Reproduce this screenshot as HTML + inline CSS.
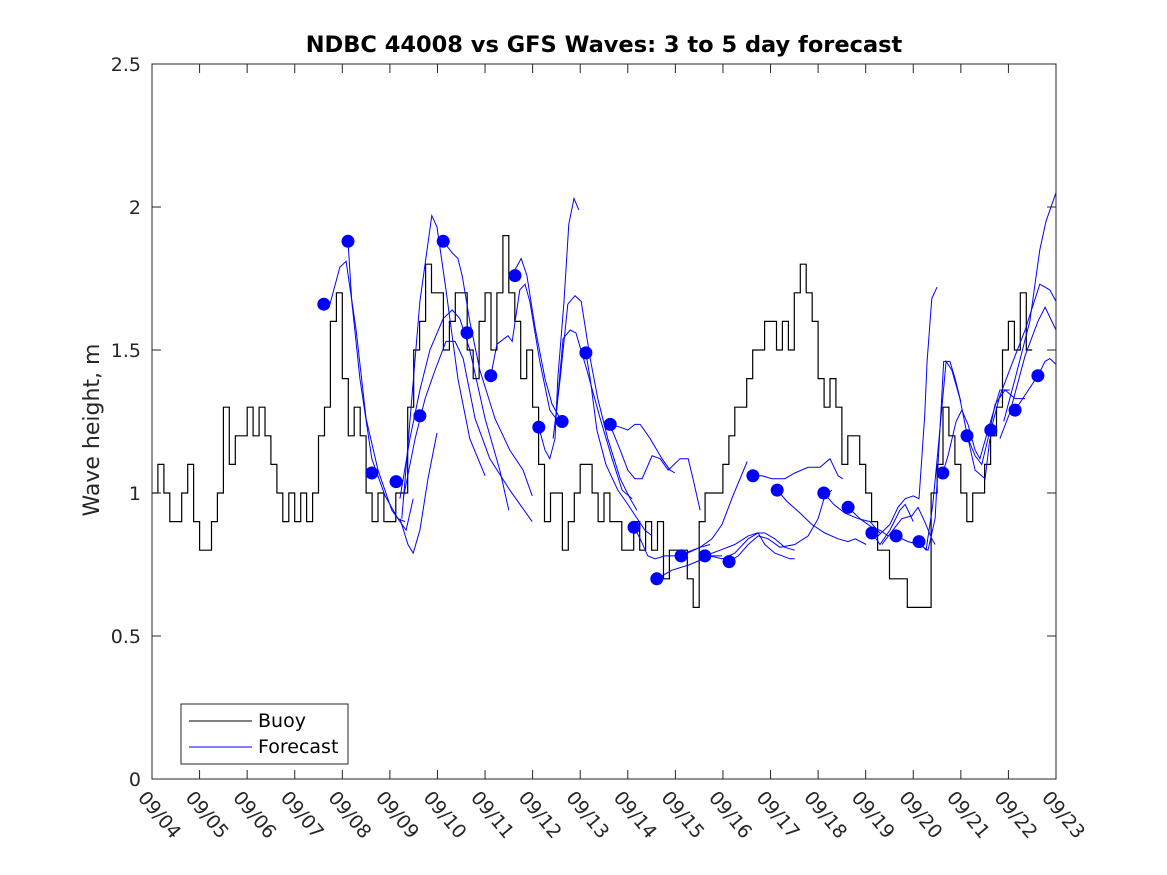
<!DOCTYPE html>
<html><head><meta charset="utf-8"><style>
body{margin:0;background:#fff;}
svg{display:block;font-family:"DejaVu Sans","Liberation Sans",sans-serif;}
</style></head><body>
<svg id="chart" width="1167" height="875" viewBox="0 0 1167 875">
<rect x="0" y="0" width="1167" height="875" fill="#fff"/>
<rect x="152" y="64" width="904" height="715" fill="#fff"/>
<text x="604" y="52" text-anchor="middle" font-size="22.5" font-weight="bold" fill="#000">NDBC 44008 vs GFS Waves: 3 to 5 day forecast</text>
<text transform="translate(99,430) rotate(-90)" text-anchor="middle" font-size="22" fill="#262626">Wave height, m</text>
<g id="series"></g>
<g id="axes"></g>
<g>
<rect x="181" y="704" width="167" height="60" fill="#fff" stroke="#262626" stroke-width="1"/>
<line x1="189" y1="721" x2="252" y2="721" stroke="#000" stroke-width="1"/>
<text x="258" y="727" font-size="19" fill="#000">Buoy</text>
<line x1="189" y1="747" x2="252" y2="747" stroke="#0000ff" stroke-width="1"/>
<text x="258" y="753" font-size="19" fill="#000">Forecast</text>
</g>
</svg>
<script>
const xTickLabels=["09/04","09/05","09/06","09/07","09/08","09/09","09/10","09/11","09/12","09/13","09/14","09/15","09/16","09/17","09/18","09/19","09/20","09/21","09/22","09/23"];
const yTickValues=[0,0.5,1,1.5,2,2.5];
const yTickLabels=["0","0.5","1","1.5","2","2.5"];
// buoy: 3-hourly values starting 09/04 00:00
const buoyValues=[
1.0,1.1,1.0,0.9,0.9,1.0,1.1,0.9,
0.8,0.8,0.9,1.0,1.3,1.1,1.2,1.2,
1.3,1.2,1.3,1.2,1.1,1.0,0.9,1.0,
0.9,1.0,0.9,1.0,1.2,1.3,1.6,1.7,
1.4,1.2,1.3,1.2,1.0,0.9,1.0,0.9,
0.9,1.0,1.0,1.3,1.5,1.6,1.8,1.7,
1.7,1.5,1.6,1.7,1.7,1.5,1.4,1.6,
1.7,1.5,1.7,1.9,1.7,1.6,1.4,1.5,
1.3,1.1,0.9,1.0,1.0,0.8,0.9,1.0,
1.1,1.1,1.0,0.9,1.0,0.9,0.9,0.8,
0.8,0.9,0.8,0.9,0.8,0.9,0.7,0.8,
0.8,0.8,0.7,0.6,0.9,1.0,1.0,1.0,
1.1,1.2,1.3,1.3,1.4,1.5,1.5,1.6,
1.6,1.5,1.6,1.5,1.7,1.8,1.7,1.6,
1.4,1.3,1.4,1.3,1.1,1.2,1.2,1.1,
1.0,0.9,0.8,0.8,0.7,0.7,0.7,0.6,
0.6,0.6,0.6,1.0,1.1,1.3,1.2,1.1,
1.0,0.9,1.0,1.0,1.1,1.2,1.3,1.5,
1.6,1.5,1.7,1.5];
const buoyStepDays=0.125;
// forecast dots
const dotDays=[3.61,4.12,4.62,5.13,5.63,6.12,6.62,7.12,7.63,8.13,8.62,9.12,9.63,10.13,10.61,11.12,11.62,12.13,12.63,13.14,14.12,14.63,15.13,15.64,16.12,16.62,17.13,17.63,18.14,18.62];
const dotValues=[1.66,1.88,1.07,1.04,1.27,1.88,1.56,1.41,1.76,1.23,1.25,1.49,1.24,0.88,0.70,0.78,0.78,0.76,1.06,1.01,1.00,0.95,0.86,0.85,0.83,1.07,1.20,1.22,1.29,1.41];
// forecast lines: days and values
const fcDays=[
[3.74,3.95,4.08,4.29,4.5,4.75,5.04,5.34,5.49],
[4.12,4.2,4.37,4.62,4.9,5.17,5.32],
[5.21,5.38,5.49,5.63,5.8,5.99],
[5.25,5.46,5.63,5.88,5.99,6.18,6.43,6.68,7.0],
[5.21,5.42,5.63,5.84,6.12,6.31,6.47,6.68,7.0,7.31,7.5],
[5.28,5.53,5.74,5.95,6.18,6.37,6.54,6.79,7.1,7.52,7.99],
[6.12,6.31,6.43,6.52,6.68,6.89,7.21,7.52,7.8,7.99],
[7.12,7.25,7.48,7.57,7.73,7.84,7.94,8.15,8.36,8.58],
[7.63,7.76,7.88,8.05,8.26,8.41,8.58],
[8.13,8.26,8.36,8.47,8.53,8.66,8.76,8.87,8.97],
[8.43,8.58,8.74,8.89,9.02,9.21,9.37,9.58,9.84,10.05,10.19],
[8.49,8.64,8.79,8.91,9.14,9.42,9.67,9.88,10.09],
[9.12,9.21,9.35,9.54,9.79,10.0,10.36,10.51],
[9.63,9.84,10.0,10.15,10.26,10.47,10.72,10.89,10.99],
[9.67,9.84,10.0,10.15,10.3,10.51,10.68,10.85,11.1,11.27,11.37,11.52],
[10.13,10.26,10.42,10.57,10.78,10.99,11.2,11.52,11.73],
[10.61,10.93,11.31,11.73,11.98],
[11.12,11.52,11.77,11.98,12.21,12.51],
[11.62,11.94,12.25,12.53,12.72,12.88,13.09,13.3,13.51],
[11.73,11.98,12.25,12.53,12.74,12.88,13.09,13.41,13.51],
[12.13,12.32,12.53,12.74,12.95,13.2,13.51,13.79,14.0,14.14,14.29],
[12.63,12.82,13.03,13.3,13.51,13.79,14.04,14.25,14.42,14.52],
[13.14,13.35,13.62,13.87,14.14,14.42,14.63,14.78,15.01],
[14.12,14.33,14.56,14.84,15.09,15.3],
[14.63,14.88,15.13,15.3,15.47],
[15.01,15.26,15.51,15.68,15.83,16.0,16.12,16.24,16.29,16.39,16.5],
[15.13,15.3,15.51,15.72,15.83,16.0],
[15.34,15.57,15.76,15.97,16.1,16.24,16.39,16.46],
[15.64,15.89,16.12,16.31,16.46,16.56,16.64,16.77,16.88,17.0],
[16.12,16.27,16.41,16.52,16.69,16.81,16.98,17.15,17.3,17.51,17.61],
[16.62,16.73,16.9,17.02,17.15,17.3,17.4,17.57,17.82,18.03],
[17.13,17.3,17.44,17.57,17.72,17.93,18.14,18.35],
[17.63,17.82,18.07,18.35,18.66,18.87,19.0],
[17.82,18.03,18.35,18.62,18.77,19.0],
[17.9,18.14,18.45,18.66,18.79,19.0],
[18.14,18.62,18.77,18.87,19.0]
];
const fcValues=[
[1.66,1.79,1.81,1.57,1.26,1.08,0.94,0.87,0.98],
[1.88,1.67,1.40,1.12,0.99,0.91,0.90],
[0.91,0.82,0.79,0.87,1.05,1.21],
[0.91,1.33,1.67,1.97,1.93,1.71,1.40,1.19,1.06],
[0.98,1.19,1.36,1.50,1.61,1.64,1.61,1.50,1.26,1.08,0.94],
[0.98,1.19,1.33,1.43,1.53,1.53,1.47,1.26,1.12,1.01,0.90],
[1.88,1.84,1.82,1.76,1.60,1.43,1.26,1.15,1.08,0.99],
[1.41,1.52,1.55,1.53,1.71,1.73,1.67,1.46,1.29,1.24],
[1.78,1.82,1.76,1.58,1.40,1.31,1.26],
[1.23,1.15,1.12,1.19,1.40,1.67,1.94,2.03,1.99],
[1.19,1.40,1.66,1.69,1.67,1.47,1.33,1.19,1.05,0.98,0.94],
[1.26,1.54,1.57,1.56,1.43,1.26,1.12,1.01,0.98],
[1.49,1.40,1.22,1.10,1.01,0.96,0.87,0.85],
[1.24,1.23,1.22,1.24,1.24,1.19,1.12,1.08,1.07],
[1.22,1.15,1.08,1.05,1.05,1.13,1.12,1.08,1.12,1.12,1.05,0.94],
[0.88,0.84,0.78,0.77,0.78,0.78,0.79,0.81,0.82],
[0.70,0.73,0.75,0.78,0.78],
[0.78,0.81,0.84,0.89,0.99,1.11],
[0.78,0.80,0.82,0.85,0.86,0.86,0.84,0.81,0.80],
[0.78,0.77,0.79,0.84,0.86,0.82,0.79,0.77,0.77],
[0.76,0.78,0.82,0.85,0.84,0.81,0.82,0.85,0.91,0.99,1.01],
[1.06,1.06,1.05,1.05,1.07,1.09,1.09,1.12,1.06,1.05],
[1.01,0.97,0.93,0.89,0.86,0.84,0.83,0.84,0.82],
[1.00,0.96,0.93,0.91,0.90,0.86],
[0.95,0.91,0.88,0.87,0.85],
[0.85,0.85,0.89,0.95,0.98,0.99,0.98,1.27,1.46,1.68,1.72],
[0.86,0.82,0.87,0.94,0.96,0.90],
[0.82,0.87,0.91,0.92,0.95,0.90,0.84,0.82],
[0.85,0.83,0.82,0.80,0.91,1.22,1.46,1.46,1.40,1.32],
[0.83,0.80,0.96,1.15,1.46,1.43,1.33,1.19,1.08,1.05,1.19],
[1.07,1.13,1.25,1.29,1.24,1.15,1.12,1.22,1.36,1.36],
[1.20,1.13,1.10,1.19,1.31,1.36,1.33,1.33],
[1.22,1.34,1.45,1.57,1.73,1.71,1.67],
[1.19,1.28,1.48,1.60,1.65,1.57],
[1.25,1.40,1.60,1.85,1.95,2.05],
[1.29,1.41,1.46,1.47,1.45]
];

const X0=152,X1=1056,Y0=779,Y1=64,NDAYS=19,YMAX=2.5;
function xs(d){return X0+(X1-X0)*d/NDAYS;}
function ys(v){return Y0-(Y0-Y1)*v/YMAX;}
const NS="http://www.w3.org/2000/svg";
function mk(tag,attrs,parent){const e=document.createElementNS(NS,tag);for(const k in attrs)e.setAttribute(k,attrs[k]);parent.appendChild(e);return e;}
const series=document.getElementById('series');
const axes=document.getElementById('axes');

let d="";
buoyValues.forEach((v,i)=>{
  const xa=xs(i*buoyStepDays), xb=xs((i+1)*buoyStepDays);
  d+=(i===0?"M":"L")+xa.toFixed(1)+","+ys(v).toFixed(1)+"L"+xb.toFixed(1)+","+ys(v).toFixed(1);
});
const buoy=mk('path',{d:d,fill:'none',stroke:'#000','stroke-width':1.2},series);



fcDays.forEach((days,k)=>{
  const vals=fcValues[k];
  const pts=days.map((t,i)=>xs(t).toFixed(1)+","+ys(vals[i]).toFixed(1)).join(" ");
  const pl=mk('polyline',{points:pts,fill:'none',stroke:'#0000ff','stroke-width':1},series);
  
  
});
dotDays.forEach((t,i)=>{
  const c=mk('ellipse',{cx:xs(t).toFixed(1),cy:ys(dotValues[i]).toFixed(1),rx:6.5,ry:6.5,fill:'#0000ff'},series);
  
  
});

const frame=mk('rect',{x:X0,y:Y1,width:X1-X0,height:Y0-Y1,fill:'none',stroke:'#262626','stroke-width':1},axes);


xTickLabels.forEach((lab,i)=>{
  const x=xs(i);
  mk('line',{x1:x,y1:Y0,x2:x,y2:Y0-9,stroke:'#262626','stroke-width':1},axes);
  mk('line',{x1:x,y1:Y1,x2:x,y2:Y1+9,stroke:'#262626','stroke-width':1},axes);
  const t=mk('text',{transform:`translate(${x-15},${Y0+19}) rotate(50)`,'font-size':19,fill:'#262626'},axes);
  t.textContent=lab;
  
  
});
yTickValues.forEach((v,i)=>{
  const y=ys(v);
  mk('line',{x1:X0,y1:y,x2:X0+9,y2:y,stroke:'#262626','stroke-width':1},axes);
  mk('line',{x1:X1,y1:y,x2:X1-9,y2:y,stroke:'#262626','stroke-width':1},axes);
  const t=mk('text',{x:X0-11,y:y+7,'text-anchor':'end','font-size':19,fill:'#262626'},axes);
  t.textContent=yTickLabels[i];
  
  
});
</script>
</body></html>
